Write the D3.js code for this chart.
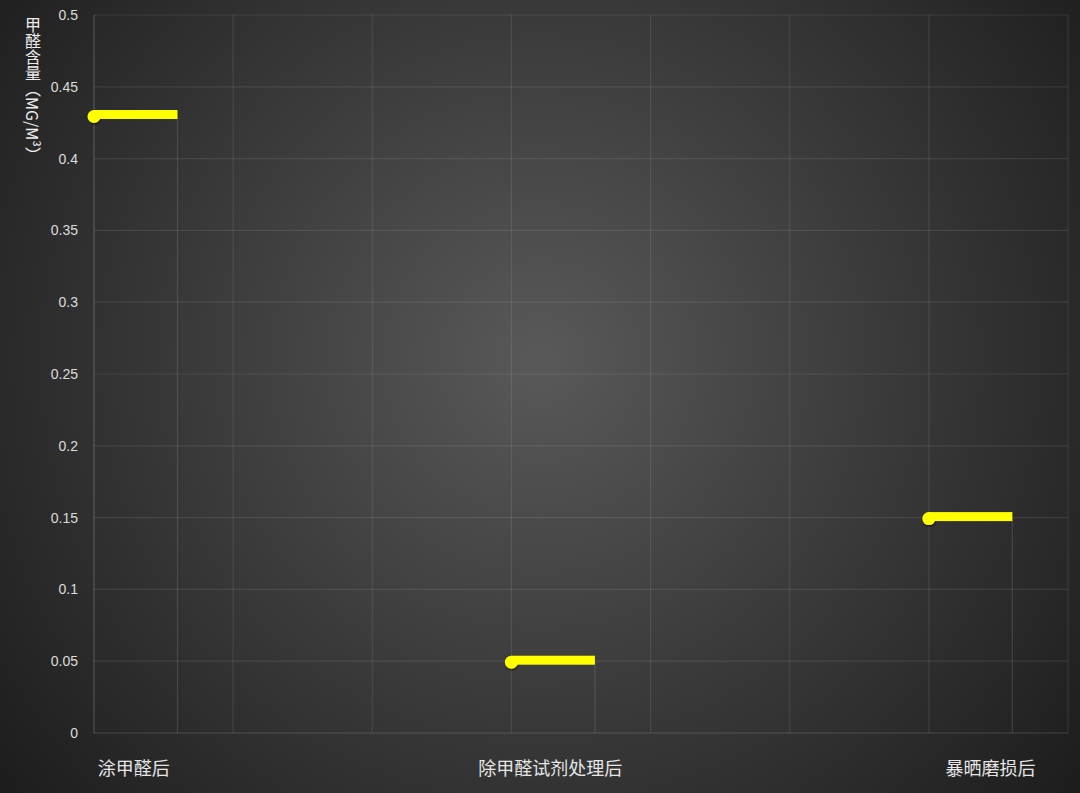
<!DOCTYPE html>
<html>
<head>
<meta charset="utf-8">
<script src="https://cdn.jsdelivr.net/npm/d3@7"></script>
<style>
  html, body { margin: 0; padding: 0; background: #1c1c1c; }
  svg { display: block; font-family: "Liberation Sans", Arial, "Noto Sans CJK SC", sans-serif; }
</style>
</head>
<body>
<svg id="chart" width="1080" height="793"></svg>
<script>
'use strict';

// Data
const categories = ['涂甲醛后', '除甲醛试剂处理后', '暴晒磨损后'];
const values = [0.43, 0.05, 0.15];
const yTicks = [0, 0.05, 0.1, 0.15, 0.2, 0.25, 0.3, 0.35, 0.4, 0.45, 0.5];
const yTitle = '甲醛含量（MG/M³）';

const width = 1080, height = 793;
const margin = { left: 94, right: 12, top: 15, bottom: 60 };

const svg = d3.select('#chart');

// Background: radial gradient, lighter in the middle
const defs = svg.append('defs');
const grad = defs.append('radialGradient')
  .attr('id', 'bg')
  .attr('gradientUnits', 'userSpaceOnUse')
  .attr('cx', 540).attr('cy', 360).attr('r', 720);
grad.append('stop').attr('offset', '0%').attr('stop-color', '#595959');
grad.append('stop').attr('offset', '45%').attr('stop-color', '#3c3c3c');
grad.append('stop').attr('offset', '100%').attr('stop-color', '#1a1a1a');

const shadow = defs.append('filter').attr('id', 'shadow')
  .attr('x', '-50%').attr('y', '-50%').attr('width', '200%').attr('height', '200%');
shadow.append('feDropShadow')
  .attr('dx', 0.5).attr('dy', 1).attr('stdDeviation', 0.8)
  .attr('flood-color', '#000').attr('flood-opacity', 0.8);

svg.append('rect')
  .attr('width', width).attr('height', height)
  .attr('fill', 'url(#bg)');

// Scales: each category takes one slot, grid every third of a slot
const step = 1 / 3;
const barLen = 0.2;
const x = d3.scaleLinear()
  .domain([0, categories.length - 1 + step])
  .range([margin.left, width - margin.right]);
const y = d3.scaleLinear()
  .domain([0, 0.5])
  .range([height - margin.bottom, margin.top]);

const gridColor = 'rgba(255,255,255,0.09)';

// Horizontal grid
svg.append('g').selectAll('line')
  .data(yTicks)
  .join('line')
  .attr('x1', x.range()[0]).attr('x2', x.range()[1])
  .attr('y1', d => y(d)).attr('y2', d => y(d))
  .attr('stroke', d => d === 0 ? 'rgba(255,255,255,0.16)' : gridColor)
  .attr('stroke-width', 1.2);

// Vertical grid
const xGrid = d3.range(0, x.domain()[1] + 1e-6, step);
svg.append('g').selectAll('line')
  .data(xGrid)
  .join('line')
  .attr('x1', d => x(d)).attr('x2', d => x(d))
  .attr('y1', y(0)).attr('y2', y(0.5))
  .attr('stroke', (d, i) => i === 0 ? 'rgba(255,255,255,0.2)' : gridColor)
  .attr('stroke-width', 1.2);

// Y tick labels
svg.append('g').selectAll('text')
  .data(yTicks)
  .join('text')
  .attr('x', margin.left - 16)
  .attr('y', d => y(d))
  .attr('dy', '0.35em')
  .attr('text-anchor', 'end')
  .attr('fill', '#dcdcdc')
  .attr('font-size', 14)
  .text(d => String(+d.toFixed(2)));

// Y axis title, vertical
svg.append('text')
  .attr('x', 33)
  .attr('y', 17)
  .attr('writing-mode', 'vertical-rl')
  .attr('fill', '#ececec')
  .attr('font-size', 16)
  .attr('font-family', '"Noto Sans CJK SC", sans-serif')
  .text(yTitle);

// X category labels, centred under each mark (last one nudged as in the source)
const labelShift = [-2, -3, 20];
svg.append('g').selectAll('text')
  .data(categories)
  .join('text')
  .attr('x', (d, i) => x(i + barLen / 2) + labelShift[i])
  .attr('y', 769)
  .attr('dy', '0.35em')
  .attr('text-anchor', 'middle')
  .attr('fill', '#e6e6e6')
  .attr('font-size', 18)
  .attr('font-family', '"Noto Sans CJK SC", sans-serif')
  .text(d => d);

// Marks
const marks = svg.append('g').selectAll('g')
  .data(values)
  .join('g');

// thin drop line from bar end to the axis
marks.append('line')
  .attr('x1', (d, i) => x(i + barLen)).attr('x2', (d, i) => x(i + barLen))
  .attr('y1', d => y(d)).attr('y2', y(0))
  .attr('stroke', 'rgba(255,255,255,0.12)')
  .attr('stroke-width', 1.2);

marks.append('circle')
  .attr('cx', (d, i) => x(i))
  .attr('cy', d => y(d) + 1)
  .attr('r', 6.5)
  .attr('fill', '#ffff00')
  .attr('filter', 'url(#shadow)');

marks.append('rect')
  .attr('x', (d, i) => x(i))
  .attr('y', d => y(d) - 5.5)
  .attr('width', (d, i) => x(i + barLen) - x(i))
  .attr('height', 9)
  .attr('fill', '#ffff00');
</script>
</body>
</html>
